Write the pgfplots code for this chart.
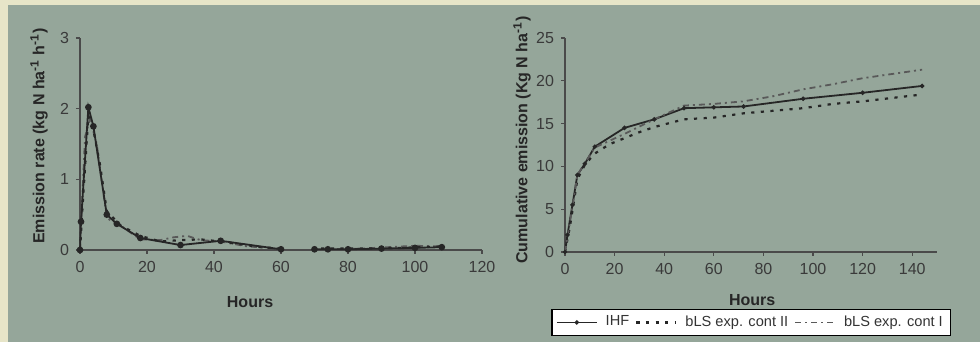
\documentclass[border=0pt]{standalone}
\usepackage{pgfplots}
\pgfplotsset{compat=1.18}
\usepackage{fontspec}
\setmainfont{Liberation Sans}
\definecolor{beige}{HTML}{E7E5C8}
\definecolor{bggreen}{HTML}{95A69A}
\definecolor{axgray}{HTML}{4A4A4A}
\definecolor{txtgray}{HTML}{3A3A3A}
\pgfplotsset{
  myax/.style={
    scale only axis,
    axis x line=bottom, axis y line=left,
    axis line style={-, axgray, line width=0.7pt},
    tick style={axgray, line width=0.6pt},
    tick align=outside, major tick length=2pt,
    ticklabel style={font=\fontsize{8}{9}\selectfont, text=txtgray},
    /pgf/number format/assume math mode=true,
    label style={font=\bfseries\fontsize{8}{9}\selectfont, text=black!85},
    unbounded coords=jump,
    clip=false,
  },
  ihf/.style={black!85, line width=0.9pt, mark=*, mark size=1.2pt, mark options={solid}},
  ctwo/.style={black!85, line width=1.1pt, dash pattern=on 1.6pt off 3.2pt},
  cone/.style={black!65, line width=0.9pt, dash pattern=on 3pt off 2pt on 1pt off 2pt},
}
\begin{document}
\begin{tikzpicture}
\fill[beige] (0,0) rectangle (490pt,171pt);
\fill[bggreen] (4pt,0) rectangle (490pt,168.5pt);
\useasboundingbox (0,0) rectangle (490pt,171pt);

% Left panel
\begin{axis}[myax,
  at={(40pt,46pt)}, anchor=south west,
  width=201pt, height=106pt,
  xmin=0, xmax=120, ymin=0, ymax=3,
  xtick={0,20,...,120}, ytick={0,1,2,3},
  xlabel={Hours},
  xlabel style={at={(rel axis cs:0.423,0)}, anchor=center, yshift=-26pt},
  ylabel={Emission rate (kg N ha\textsuperscript{-1} h\textsuperscript{-1})},
  ylabel style={at={(rel axis cs:0,0.5)}, anchor=center, yshift=20.5pt, xshift=4pt},
]
\addplot[cone] coordinates {(0,0) (1.5,1.6) (3,1.85) (5,1.5) (8,0.45) (12,0.35) (18,0.15) (24,0.14) (28,0.18) (32,0.2) (36,0.14) (42,0.12) (50,0.05) (60,0.02) (65,nan) (72,0.01) (84,0.02) (96,0.05) (100,0.06) (108,0.05)};
\addplot[ctwo] coordinates {(0,0) (1,0.8) (2.5,1.9) (4,1.7) (6,1.2) (8,0.55) (12,0.35) (18,0.2) (24,0.12) (30,0.14) (36,0.15) (42,0.12) (54,0.04) (60,0.02) (65,nan) (72,0.02) (84,0.02) (96,0.03) (108,0.05)};
\addplot[ihf] coordinates {(0,0) (0.3,0.4) (2.5,2.02) (4,1.75) (8,0.5) (11,0.37) (18,0.17) (30,0.07) (42,0.13) (60,0.01) (65,nan) (70,0.01) (74,0.01) (80,0.01) (90,0.02) (100,0.03) (108,0.04)};
\end{axis}

% Right panel
\begin{axis}[myax,
  at={(282.5pt,45pt)}, anchor=south west,
  width=186pt, height=107pt,
  xmin=0, xmax=150, ymin=0, ymax=25,
  xtick={0,20,...,140}, ytick={0,5,...,25},
  xlabel={Hours},
  xlabel style={at={(rel axis cs:0.503,0)}, anchor=center, yshift=-24pt},
  ylabel={Cumulative emission (Kg N ha\textsuperscript{-1})},
  ylabel style={at={(rel axis cs:0,0.5)}, anchor=center, yshift=21.5pt, xshift=2.5pt},
  legend style={at={(rel axis cs:0.501,-0.329)}, anchor=center, draw=black, fill=white,
    line width=0.6pt, font=\fontsize{7.3}{8}\selectfont, legend columns=3,
    inner xsep=2pt, inner ysep=1pt, text=black!80,
    /tikz/every even column/.append style={column sep=1pt},
    /tikz/every odd column/.append style={column sep=2pt}},
  legend image code/.code={\draw[#1, mark indices={2}] plot coordinates {(0pt,0pt) (10pt,0pt) (20pt,0pt)};},
]
\addplot[ihf, mark size=0.6pt] coordinates {(0,0) (1,2) (3,5.5) (5,9.0) (8,10.3) (12,12.3) (24,14.5) (36,15.5) (48,16.8) (60,16.9) (72,17.0) (96,17.9) (120,18.6) (144,19.4)};
\addlegendentry{IHF}
\addplot[ctwo] coordinates {(0,0) (2,3) (5,8.5) (8,10.2) (12,11.5) (18,12.6) (24,13.3) (30,14.0) (36,14.6) (48,15.5) (60,15.7) (72,16.2) (84,16.5) (96,16.8) (108,17.3) (120,17.6) (144,18.4)};
\addlegendentry{bLS exp. cont II}
\addplot[cone] coordinates {(0,0) (2,3.5) (5,9.0) (12,12.2) (24,13.8) (36,15.5) (48,17.1) (60,17.3) (72,17.6) (84,18.2) (96,19.0) (108,19.6) (120,20.3) (144,21.3)};
\addlegendentry{bLS exp. cont I}
\end{axis}
\end{tikzpicture}
\end{document}
